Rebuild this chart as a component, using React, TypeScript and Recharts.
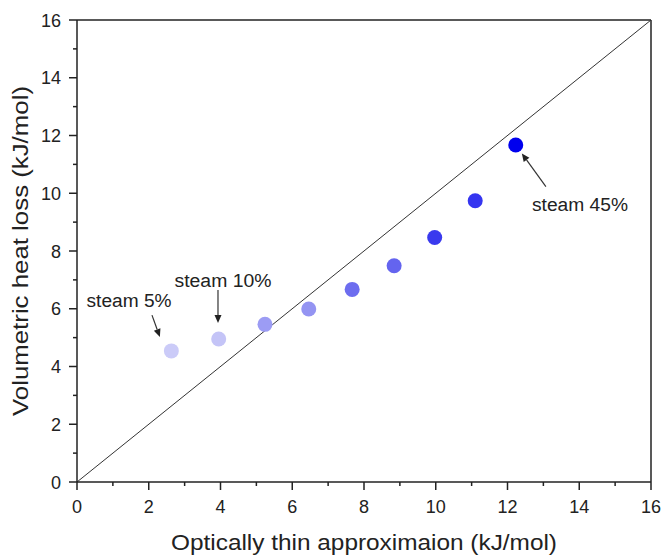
import React from 'react';
import { ScatterChart, Scatter, XAxis, YAxis, ReferenceLine, ReferenceDot, Cell, Label } from 'recharts';

const xValues = [2.63, 3.95, 5.24, 6.46, 7.67, 8.84, 9.97, 11.1, 12.23];
const yValues = [4.54, 4.95, 5.46, 5.99, 6.67, 7.49, 8.47, 9.74, 11.67];
const steamPct = [5, 10, 15, 20, 25, 30, 35, 40, 45];
const dotColors = ['#cbcbf8', '#c4c4f7', '#9c9cf4', '#9494f2', '#6d6def', '#6464ef', '#3a3aee', '#3535f0', '#0000ee'];
const axisTicks = [0, 1, 2, 3, 4, 5, 6, 7, 8, 9, 10, 11, 12, 13, 14, 15, 16];

const xTitle = 'Optically thin approximaion (kJ/mol)';
const yTitle = 'Volumetric heat loss (kJ/mol)';
const labelTexts = ['steam 5%', 'steam 10%', 'steam 45%'];
const labelWidths = [85, 97, 96];
const labelX = [1.45, 4.07, 14.02];
const labelY = [6.3, 6.98, 9.6];
const arrowStart = [[2.09, 5.78], [3.93, 6.65], [13.07, 10.23]];
const arrowEnd = [[2.31, 5.02], [3.93, 5.51], [12.4, 11.38]];

const data = xValues.map((x, i) => ({ x, y: yValues[i], steam: steamPct[i] }));

const FONT = '"Liberation Sans", Arial, sans-serif';

const XTick = (p: any) => {
  const v = p.payload.value;
  const major = v % 2 === 0;
  return (
    <g>
      <line x1={p.x} x2={p.x} y1={p.y} y2={p.y + (major ? 8 : 4)} stroke="#222" strokeWidth={1.5} />
      {major && (
        <text x={p.x} y={p.y + 31} textAnchor="middle" fontSize={18} fill="#222" fontFamily={FONT}>{v}</text>
      )}
    </g>
  );
};

const YTick = (p: any) => {
  const v = p.payload.value;
  const major = v % 2 === 0;
  return (
    <g>
      <line x1={p.x} x2={p.x - (major ? 8 : 4)} y1={p.y} y2={p.y} stroke="#222" strokeWidth={1.5} />
      {major && (
        <text x={p.x - 16} y={p.y + 6.5} textAnchor="end" fontSize={18} fill="#222" fontFamily={FONT}>{v}</text>
      )}
    </g>
  );
};

const Arrow = (p: any) => {
  const { x1, y1, x2, y2 } = p;
  const dx = x2 - x1, dy = y2 - y1;
  const len = Math.sqrt(dx * dx + dy * dy) || 1;
  const ux = dx / len, uy = dy / len;
  const hl = 8, hw = 3.5;
  const bx = x2 - ux * hl, by = y2 - uy * hl;
  const pts = `${x2},${y2} ${bx - uy * hw},${by + ux * hw} ${bx + uy * hw},${by - ux * hw}`;
  return (
    <g>
      <line x1={x1} y1={y1} x2={bx} y2={by} stroke="#333" strokeWidth={1.2} />
      <polygon points={pts} fill="#222" />
    </g>
  );
};

const XTitle = (p: any) => {
  const vb = p.viewBox || {};
  return (
    <text x={vb.x + vb.width / 2} y={vb.y + 68} textAnchor="middle" fontSize={22} fill="#222" fontFamily={FONT}
      textLength={386} lengthAdjust="spacingAndGlyphs">{xTitle}</text>
  );
};

const YTitle = (p: any) => {
  const vb = p.viewBox || {};
  const cx = vb.x + 11;
  const cy = vb.y + vb.height / 2;
  return (
    <text x={cx} y={cy} transform={`rotate(-90 ${cx} ${cy})`} textAnchor="middle" fontSize={22} fill="#222" fontFamily={FONT}
      textLength={330} lengthAdjust="spacingAndGlyphs">{yTitle}</text>
  );
};

export default function App() {
  return (
    <div style={{ position: 'absolute', left: 0, top: 0, width: 662, height: 556, background: '#fff' }}>
      <ScatterChart width={662} height={556} margin={{ top: 20, right: 11, bottom: 14, left: 17 }}>
        <XAxis
          type="number"
          dataKey="x"
          domain={[0, 16]}
          ticks={axisTicks}
          interval={0}
          allowDataOverflow
          tickLine={false}
          tickSize={0}
          tickMargin={0}
          tick={<XTick />}
          stroke="#222"
          strokeWidth={1.5}
          height={60}
        >
          <Label content={<XTitle />} />
        </XAxis>
        <YAxis
          type="number"
          dataKey="y"
          domain={[0, 16]}
          ticks={axisTicks}
          interval={0}
          allowDataOverflow
          tickLine={false}
          tickSize={0}
          tickMargin={0}
          tick={<YTick />}
          stroke="#222"
          strokeWidth={1.5}
          width={60}
        >
          <Label content={<YTitle />} />
        </YAxis>
        <ReferenceLine y={16} stroke="#222" strokeWidth={1.5} ifOverflow="visible" />
        <ReferenceLine x={16} stroke="#222" strokeWidth={1.5} ifOverflow="visible" />
        <ReferenceLine segment={[{ x: 0, y: 0 }, { x: 16, y: 16 }]} stroke="#333" strokeWidth={1} />
        {arrowStart.map((s, i) => (
          <ReferenceLine
            key={'a' + i}
            segment={[{ x: s[0], y: s[1] }, { x: arrowEnd[i][0], y: arrowEnd[i][1] }]}
            shape={<Arrow />}
          />
        ))}
        {labelTexts.map((t, i) => (
          <ReferenceDot
            key={'l' + i}
            x={labelX[i]}
            y={labelY[i]}
            r={0}
            shape={(p: any) => (
              <text x={p.cx} y={p.cy + 6.5} textAnchor="middle" fontSize={18} fill="#222" fontFamily={FONT}
                textLength={labelWidths[i]} lengthAdjust="spacingAndGlyphs">{t}</text>
            )}
          />
        ))}
        <Scatter
          data={data}
          isAnimationActive={false}
          shape={(p: any) => <circle cx={p.cx} cy={p.cy} r={7.5} fill={p.fill} />}
        >
          {data.map((d, i) => (
            <Cell key={i} fill={dotColors[i]} />
          ))}
        </Scatter>
      </ScatterChart>
    </div>
  );
}
